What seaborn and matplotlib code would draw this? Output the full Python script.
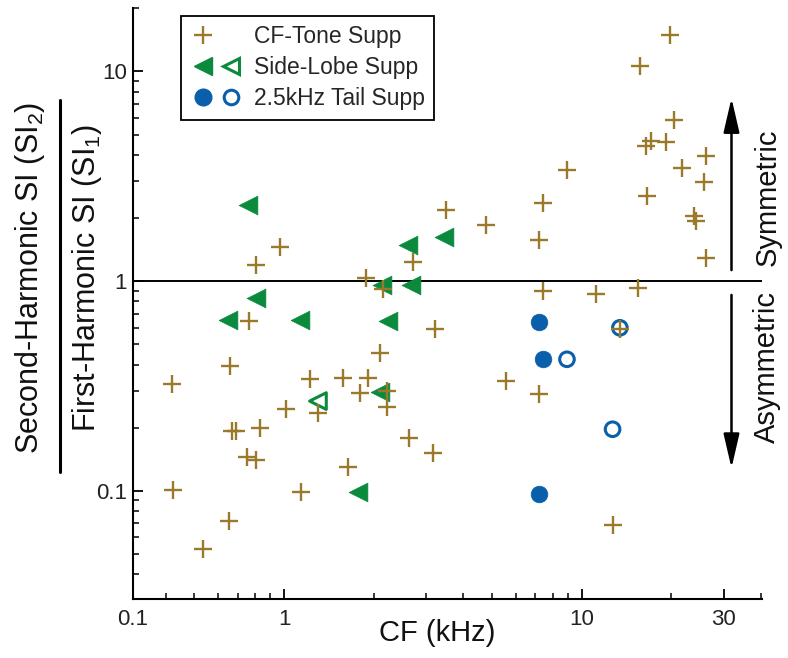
import numpy as np
import pandas as pd
import matplotlib
matplotlib.use("Agg")
import matplotlib.pyplot as plt
import seaborn as sns
from matplotlib.lines import Line2D
from matplotlib.legend_handler import HandlerTuple
from matplotlib.ticker import NullFormatter, FixedLocator, LogLocator

# ---------------- data ----------------
cf_tone_x = [0.420, 0.425, 0.535, 0.654, 0.660, 0.669, 0.687, 0.832, 0.748, 0.808,
             0.761, 0.808, 0.971, 1.019, 1.142, 1.219, 1.302, 1.574, 1.640, 1.795,
             1.890, 1.914, 2.095, 2.152, 2.220, 2.211, 2.628, 2.710, 3.162, 3.204,
             3.496, 4.778, 5.575, 7.213, 7.213, 7.398, 7.398, 8.93, 11.18, 12.71,
             13.45, 15.53, 15.74, 16.45, 17.10, 16.65, 19.20, 19.85, 20.47, 21.83,
             23.89, 24.20, 25.81, 26.15, 26.15]
cf_tone_y = [0.322, 0.1013, 0.0528, 0.0717, 0.3926, 0.1931, 0.1931, 0.2004, 0.1447, 0.1405,
             0.646, 1.188, 1.455, 0.245, 0.0989, 0.340, 0.236, 0.3467, 0.1293, 0.292,
             1.032, 0.3467, 0.4524, 0.913, 0.2995, 0.2518, 0.1786, 1.234, 0.1517, 0.5888,
             2.194, 1.856, 0.334, 0.2887, 1.579, 2.362, 0.896, 3.403, 0.864, 0.0689,
             0.5934, 0.930, 10.56, 4.394, 4.642, 2.559, 4.591, 14.95, 5.888, 3.467,
             2.039, 1.931, 2.961, 3.937, 1.292]

side_filled_x = [0.757, 0.804, 0.649, 1.129, 2.128, 2.234, 2.607, 3.461, 2.677, 2.095, 1.771]
side_filled_y = [2.318, 0.827, 0.653, 0.656, 0.954, 0.646, 1.479, 1.615, 0.959, 0.2951, 0.0989]
side_open_x = [1.300]
side_open_y = [0.268]

tail_filled_x = [7.213, 7.438, 7.213]
tail_filled_y = [0.636, 0.424, 0.0970]
tail_open_x = [8.93, 13.45, 12.71]
tail_open_y = [0.424, 0.599, 0.1967]

legend_labels = ["CF-Tone Supp", "Side-Lobe Supp", "2.5kHz Tail Supp"]
xtick_labels = ["0.1", "1", "10", "30"]
ytick_values = [0.1, 1, 10]
ytick_labels = ["0.1", "1", "10"]

XMIN, XMAX = 0.31, 40.3
YMIN, YMAX = 0.0304, 20.0

OLIVE = "#9A7A2A"
GREEN = "#0B8A3E"
BLUE = "#0A5FAA"

# ---------------- style ----------------
sns.set_style("ticks")
plt.rcParams["font.family"] = ["Liberation Sans", "DejaVu Sans"]
plt.rcParams["mathtext.fontset"] = "custom"
plt.rcParams["mathtext.rm"] = "Liberation Sans"
plt.rcParams["mathtext.default"] = "regular"

fig = plt.figure(figsize=(7.88, 6.58), dpi=100)
ax = fig.add_axes([0.1684, 0.0892, 0.7982, 0.8982])
ax.set_xscale("log")
ax.set_yscale("log")

df_cf = pd.DataFrame({"x": cf_tone_x, "y": cf_tone_y})
df_sf = pd.DataFrame({"x": side_filled_x, "y": side_filled_y})
df_so = pd.DataFrame({"x": side_open_x, "y": side_open_y})
df_tf = pd.DataFrame({"x": tail_filled_x, "y": tail_filled_y})
df_to = pd.DataFrame({"x": tail_open_x, "y": tail_open_y})

ax.axhline(1, color="black", lw=1.4, zorder=1)

sns.scatterplot(data=df_sf, x="x", y="y", ax=ax, marker="<", s=13.5**2,
                color=GREEN, edgecolor=GREEN, linewidth=0.5, zorder=3)
sns.scatterplot(data=df_so, x="x", y="y", ax=ax, marker="<", s=12**2,
                color=GREEN, facecolor="none", edgecolor=GREEN, linewidth=2.2, zorder=3)
sns.scatterplot(data=df_tf, x="x", y="y", ax=ax, marker="o", s=12**2,
                color=BLUE, edgecolor=BLUE, linewidth=0.5, zorder=3)
sns.scatterplot(data=df_to, x="x", y="y", ax=ax, marker="o", s=10.5**2,
                color=BLUE, facecolor="none", edgecolor=BLUE, linewidth=2.2, zorder=3)
sns.scatterplot(data=df_cf, x="x", y="y", ax=ax, marker="+", s=13**2,
                color=OLIVE, linewidth=1.7, zorder=4)

ax.set_xlim(XMIN, XMAX)
ax.set_ylim(YMIN, YMAX)

ax.xaxis.set_major_locator(FixedLocator([XMIN, 1, 10, 30]))
ax.set_xticklabels(xtick_labels)
ax.xaxis.set_minor_locator(LogLocator(base=10, subs=np.arange(2, 10)))
ax.xaxis.set_minor_formatter(NullFormatter())
ax.yaxis.set_major_locator(FixedLocator(ytick_values))
ax.set_yticklabels(ytick_labels)
ax.yaxis.set_minor_locator(LogLocator(base=10, subs=np.arange(2, 10)))
ax.yaxis.set_minor_formatter(NullFormatter())

ax.tick_params(which="major", direction="in", length=7, width=1.3, labelsize=16,
               color="black", labelcolor="#222222")
ax.tick_params(which="minor", direction="in", length=4, width=1.1, color="black")
ax.tick_params(axis="x", which="major", pad=7)
ax.tick_params(axis="y", which="major", pad=4)

sns.despine(ax=ax)
for sp in ["left", "bottom"]:
    ax.spines[sp].set_linewidth(1.5)
    ax.spines[sp].set_color("black")

ax.set_xlabel("CF (kHz)", fontsize=21, color="#111111")
ax.set_ylabel("")
ax.xaxis.set_label_coords(0.484, -0.033)

# y label as a fraction
fig.text(0.038, 0.5775, "Second-Harmonic SI (SI$_2$)", rotation=90,
         ha="center", va="center", fontsize=22, color="#111111")
fig.text(0.110, 0.5775, "First-Harmonic SI (SI$_1$)", rotation=90,
         ha="center", va="center", fontsize=22, color="#111111")
fig.add_artist(Line2D([0.0761, 0.0761], [0.2827, 0.848], color="black", lw=2.2,
                      transform=fig.transFigure))

# arrows and side texts
arrow_style = "-|>,head_length=0.95,head_width=0.22"
ax.annotate("", xy=(0.952, 0.848), xytext=(0.952, 0.557), xycoords="axes fraction",
            arrowprops=dict(arrowstyle=arrow_style,
                            lw=1.8, color="black", mutation_scale=22, shrinkA=0, shrinkB=0))
ax.annotate("", xy=(0.952, 0.222), xytext=(0.952, 0.515), xycoords="axes fraction",
            arrowprops=dict(arrowstyle=arrow_style,
                            lw=1.8, color="black", mutation_scale=22, shrinkA=0, shrinkB=0))
ax.text(1.009, 0.681, "Symmetric", rotation=90, ha="center", va="center",
        fontsize=21, transform=ax.transAxes, clip_on=False, color="#111111")
ax.text(1.009, 0.393, "Asymmetric", rotation=90, ha="center", va="center",
        fontsize=21, transform=ax.transAxes, clip_on=False, color="#111111")

# legend
h_plus = (Line2D([], [], marker="+", ls="none", color=OLIVE, ms=13, mew=1.7),
          Line2D([], [], ls="none", marker=None))
h_tri = (Line2D([], [], marker="<", ls="none", color=GREEN, ms=13),
         Line2D([], [], marker="<", ls="none", mfc="none", mec=GREEN, ms=11.5, mew=2.2))
h_circ = (Line2D([], [], marker="o", ls="none", color=BLUE, ms=12),
          Line2D([], [], marker="o", ls="none", mfc="none", mec=BLUE, ms=10.5, mew=2.2))
leg = ax.legend(handles=[h_plus, h_tri, h_circ], labels=legend_labels,
                handler_map={tuple: HandlerTuple(ndivide=None, pad=0.2)},
                loc="upper left", bbox_to_anchor=(0.077, 0.9875), borderaxespad=0,
                frameon=True, fancybox=False, framealpha=1, edgecolor="black",
                fontsize=16.5, handlelength=2.3, handletextpad=0.45, borderpad=0.42,
                labelspacing=0.34)
leg.get_frame().set_linewidth(1.3)

fig.savefig("out.png", dpi=100)
